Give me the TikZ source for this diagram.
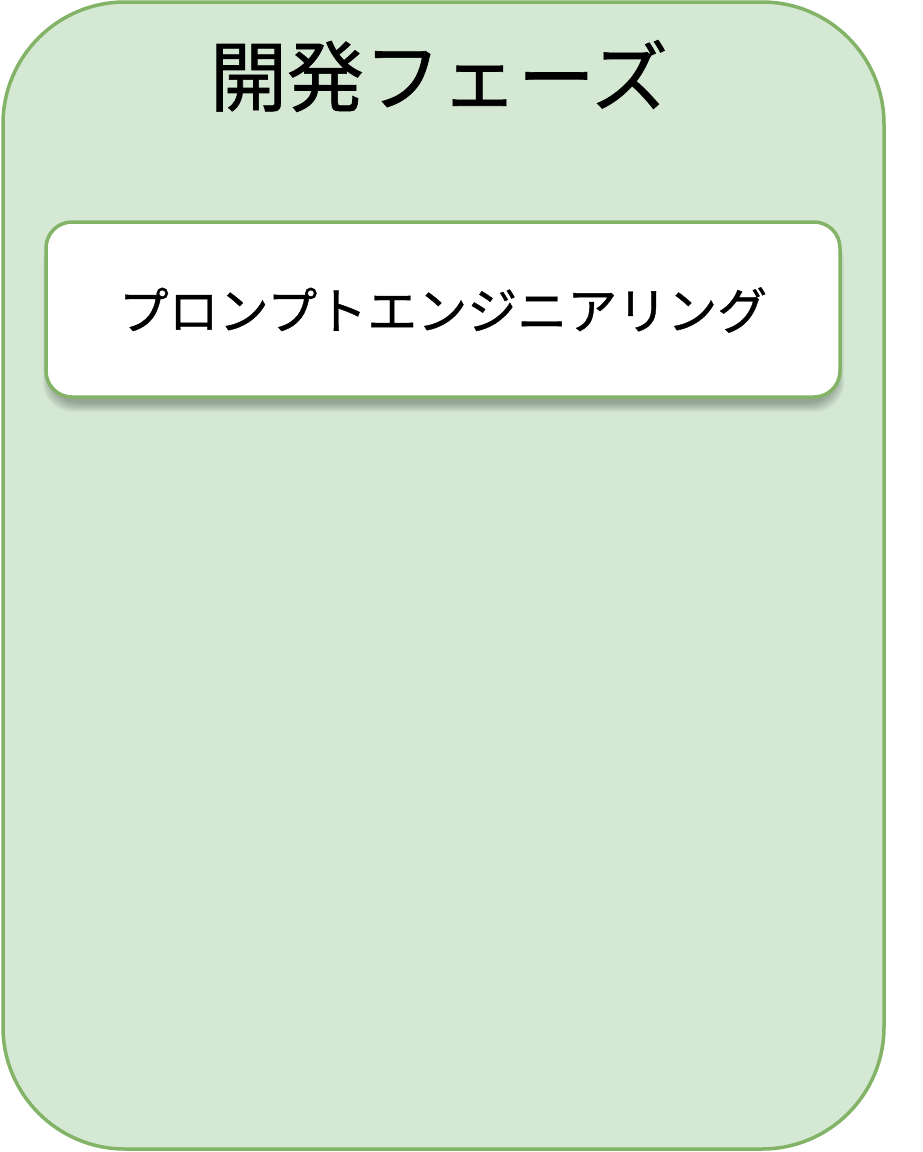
\documentclass[tikz,border=0pt]{standalone}
\usepackage{fontspec}
\newfontfamily\jpfont[FakeBold=0.8]{Noto Sans CJK JP}
\definecolor{gfill}{HTML}{D5E8D4}
\definecolor{gline}{HTML}{82B366}
\begin{document}
\begin{tikzpicture}[x=1pt,y=-1pt,
  phase/.style={draw=gline,fill=gfill,line width=3.5pt,rounded corners=122pt},
  stepbox/.style={draw=gline,fill=white,line width=3.5pt,rounded corners=26pt}]
\useasboundingbox (0,0) rectangle (922,1152);
\fill[white] (0,0) rectangle (922,1152);
\draw[phase] (3,2) rectangle (884,1149);
\node[font=\jpfont\fontsize{77pt}{82pt}\selectfont, anchor=center] (title) at (439,76) {開発フェーズ};
% soft shadow
\foreach \i in {1,...,10}{
  \fill[black,opacity=0.03,rounded corners=30pt] (46+\i*0.8-4,222+10-\i*0.5) rectangle (840-\i*0.8+5,397+16-\i*1.0);
}
\draw[stepbox] (46,222) rectangle (840,397);
\node[font=\jpfont\fontsize{50pt}{55pt}\selectfont, anchor=center] (pe) at (443,310) {プロンプトエンジニアリング};
\end{tikzpicture}
\end{document}
